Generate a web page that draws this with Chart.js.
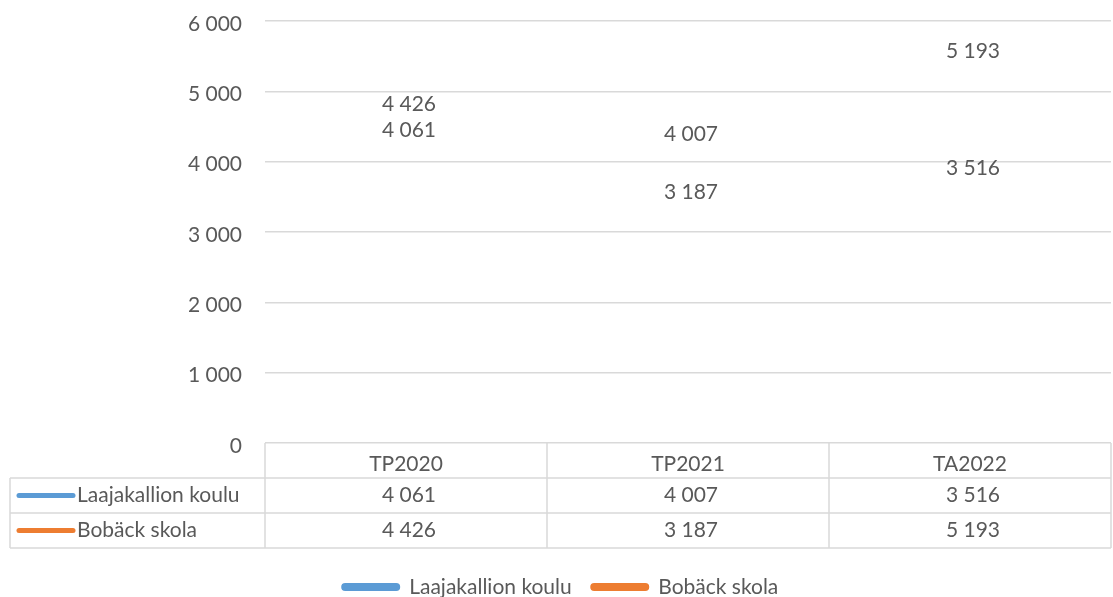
<!DOCTYPE html>
<html lang="fi">
<head>
    <meta charset="UTF-8">
    <title>Laajakallion koulu / Bobäck skola</title>
    <style>
        html, body { margin: 0; padding: 0; background: #fff; }
        .chart-container { width: 1113px; height: 597px; position: relative; }
    </style>
</head>
<body>
    <div class="chart-container">
        <canvas id="costChart"></canvas>
    </div>

    <script src="https://cdn.jsdelivr.net/npm/chart.js"></script>
    <script>
        // values
        const categories = ['TP2020', 'TP2021', 'TA2022'];
        const seriesNames = ['Laajakallion koulu', 'Bobäck skola'];
        const laajakallio = [4061, 4007, 3516];
        const boback = [4426, 3187, 5193];
        const yTicks = [0, 1000, 2000, 3000, 4000, 5000, 6000];

        const colors = ['#5b9bd5', '#ed7d31'];
        const textColor = '#595959';
        const lineColor = '#d9d9d9';
        const fontFamily = 'Lato, "Open Sans", sans-serif';
        const fontSize = 21;

        // "4426" -> "4 426"
        function fmt(v) {
            return String(v).replace(/\B(?=(\d{3})+(?!\d))/g, ' ');
        }

        // data labels above each (hidden) point
        const labelPlugin = {
            id: 'pointLabels',
            afterDatasetsDraw(chart) {
                const ctx = chart.ctx;
                ctx.save();
                ctx.font = fontSize + 'px ' + fontFamily;
                ctx.fillStyle = textColor;
                ctx.textAlign = 'center';
                ctx.textBaseline = 'middle';
                chart.data.datasets.forEach((ds, i) => {
                    const meta = chart.getDatasetMeta(i);
                    meta.data.forEach((pt, j) => {
                        ctx.fillText(fmt(ds.data[j]), pt.x + 3, pt.y - 27);
                    });
                });
                ctx.restore();
            }
        };

        // Excel style data table under the plot
        const tablePlugin = {
            id: 'dataTable',
            afterDraw(chart) {
                const ctx = chart.ctx;
                const area = chart.chartArea;
                const xs = chart.scales.x;
                const rowH = 35;
                const top = area.bottom;
                const left = 10;
                const right = area.right;
                const half = (xs.getPixelForValue(1) - xs.getPixelForValue(0)) / 2;

                ctx.save();
                ctx.strokeStyle = lineColor;
                ctx.lineWidth = 1.5;
                ctx.beginPath();
                // horizontal lines
                for (let r = 1; r <= 3; r++) {
                    ctx.moveTo(left, top + rowH * r);
                    ctx.lineTo(right, top + rowH * r);
                }
                // outer left edge of series column
                ctx.moveTo(left, top + rowH);
                ctx.lineTo(left, top + rowH * 3);
                // vertical dividers
                ctx.moveTo(area.left, top);
                ctx.lineTo(area.left, top + rowH * 3);
                categories.forEach((c, j) => {
                    const xr = xs.getPixelForValue(j) + half;
                    ctx.moveTo(xr, top);
                    ctx.lineTo(xr, top + rowH * 3);
                });
                ctx.stroke();

                ctx.font = fontSize + 'px ' + fontFamily;
                ctx.fillStyle = textColor;
                ctx.textBaseline = 'middle';
                const rows = [laajakallio, boback];
                rows.forEach((vals, r) => {
                    const cy = top + rowH * (r + 1) + rowH / 2;
                    // legend key
                    ctx.strokeStyle = colors[r];
                    ctx.lineWidth = 5;
                    ctx.lineCap = 'round';
                    ctx.beginPath();
                    ctx.moveTo(19, cy);
                    ctx.lineTo(73, cy);
                    ctx.stroke();
                    ctx.textAlign = 'left';
                    ctx.fillText(seriesNames[r], 77, cy);
                    ctx.textAlign = 'center';
                    vals.forEach((v, j) => {
                        ctx.fillText(fmt(v), xs.getPixelForValue(j) + 3, cy);
                    });
                });
                ctx.restore();
            }
        };

        const ctx = document.getElementById('costChart').getContext('2d');
        new Chart(ctx, {
            type: 'line',
            data: {
                labels: categories,
                datasets: [
                    { label: seriesNames[0], data: laajakallio, borderColor: colors[0], backgroundColor: colors[0], showLine: false, pointRadius: 0 },
                    { label: seriesNames[1], data: boback, borderColor: colors[1], backgroundColor: colors[1], showLine: false, pointRadius: 0 }
                ]
            },
            options: {
                responsive: true,
                maintainAspectRatio: false,
                animation: false,
                layout: { padding: { left: 10, right: 2, top: 0, bottom: -10.5 } },
                plugins: {
                    tooltip: { enabled: false },
                    legend: {
                        position: 'bottom',
                        labels: {
                            color: textColor,
                            font: { family: fontFamily, size: fontSize },
                            boxWidth: 56,
                            boxHeight: 5,
                            useBorderRadius: true,
                            borderRadius: 2.5,
                            padding: 20
                        }
                    }
                },
                scales: {
                    x: {
                        offset: true,
                        grid: { display: false },
                        border: { display: false },
                        ticks: { color: textColor, font: { family: fontFamily, size: fontSize }, padding: 1 },
                        afterFit(scale) { scale.height = 113.5; }
                    },
                    y: {
                        min: 0,
                        max: 6000,
                        afterBuildTicks(scale) { scale.ticks = yTicks.map(v => ({ value: v })); },
                        grid: { color: lineColor, lineWidth: 1.5, drawTicks: false },
                        border: { display: false },
                        ticks: {
                            color: textColor,
                            font: { family: fontFamily, size: fontSize },
                            padding: 23,
                            labelOffset: 3,
                            callback: v => fmt(v)
                        },
                        afterFit(scale) {
                            scale.width = 255;
                            scale.paddingTop = 21;
                            scale.paddingBottom = 0;
                        }
                    }
                }
            },
            plugins: [labelPlugin, tablePlugin]
        });
    </script>
</body>
</html>
